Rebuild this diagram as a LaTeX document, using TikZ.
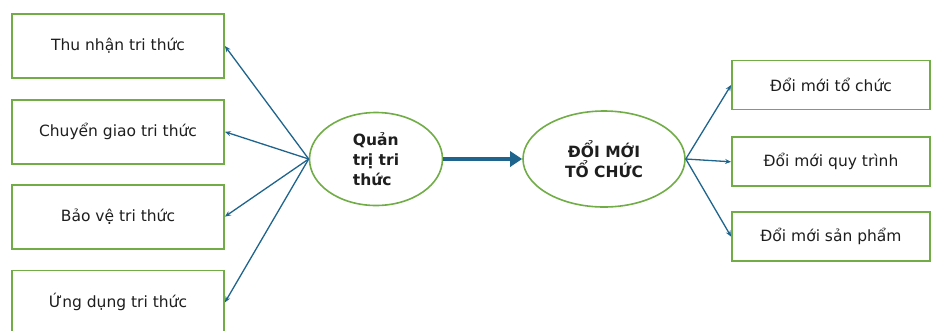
\documentclass[tikz,border=0pt]{standalone}
\usepackage{fontspec}
\setmainfont{DejaVu Sans}
\usetikzlibrary{shapes.geometric, arrows.meta, positioning}
\definecolor{ktGreen}{RGB}{112, 173, 71}
\definecolor{ktBlue}{RGB}{30, 100, 140}
\definecolor{ktText}{RGB}{30, 30, 30}
\tikzset{
  leftbox/.style={
    rectangle, draw=ktGreen, line width=1.8pt,
    minimum width=212pt, minimum height=64pt,
    text=ktText, font=\fontsize{15.5}{18}\selectfont, inner sep=0pt
  },
  rightbox/.style={
    rectangle, draw=ktGreen, line width=1.8pt,
    minimum width=198pt, minimum height=49pt,
    text=ktText, font=\fontsize{15.5}{18}\selectfont, inner sep=0pt
  },
  hubnode/.style={
    ellipse, draw=ktGreen, line width=1.6pt,
    text=ktText, font=\fontsize{15.5}{20}\selectfont\bfseries,
    inner sep=0pt
  },
  thinarrow/.style={-{Stealth[length=6pt, width=5pt]}, line width=1.3pt, color=ktBlue},
  mainarrow/.style={-{Triangle[length=12pt, width=15pt]}, line width=4pt, color=ktBlue}
}

\begin{document}
\begin{tikzpicture}[x=1pt, y=-1pt]

\useasboundingbox (0,0) rectangle (933,330);

\def\leftX{118}
\def\rightX{831}

%% LEFT COLUMN
\node[leftbox] (acquire) at (\leftX, 46) {Thu nhận tri thức};
\node[leftbox, below=20pt of acquire] (transfer) {Chuyển giao tri thức};
\node[leftbox, below=19pt of transfer] (protect) {Bảo vệ tri thức};
\node[leftbox, below=20pt of protect] (apply) {Ứng dụng tri thức};

%% CENTRE
\node[hubnode, minimum width=133pt, minimum height=93pt, align=left]
  (km) at (376, 159) {Quản\\trị tri\\thức};
\node[hubnode, minimum width=162pt, minimum height=96pt, align=center]
  (innov) at (604, 159) {ĐỔI MỚI\\TỔ CHỨC};

%% RIGHT COLUMN
\node[rightbox] (orgchange) at (\rightX, 85) {Đổi mới tổ chức};
\node[rightbox, below=26pt of orgchange] (process) {Đổi mới quy trình};
\node[rightbox, below=24pt of process] (product) {Đổi mới sản phẩm};

%% ARROWS
\foreach \target in {acquire, transfer, protect, apply}
  \draw[thinarrow] (km.west) -- (\target.east);

\draw[mainarrow] (km.east) -- (innov.west);

\foreach \target in {orgchange, process, product}
  \draw[thinarrow] (innov.east) -- (\target.west);

\end{tikzpicture}
\end{document}
